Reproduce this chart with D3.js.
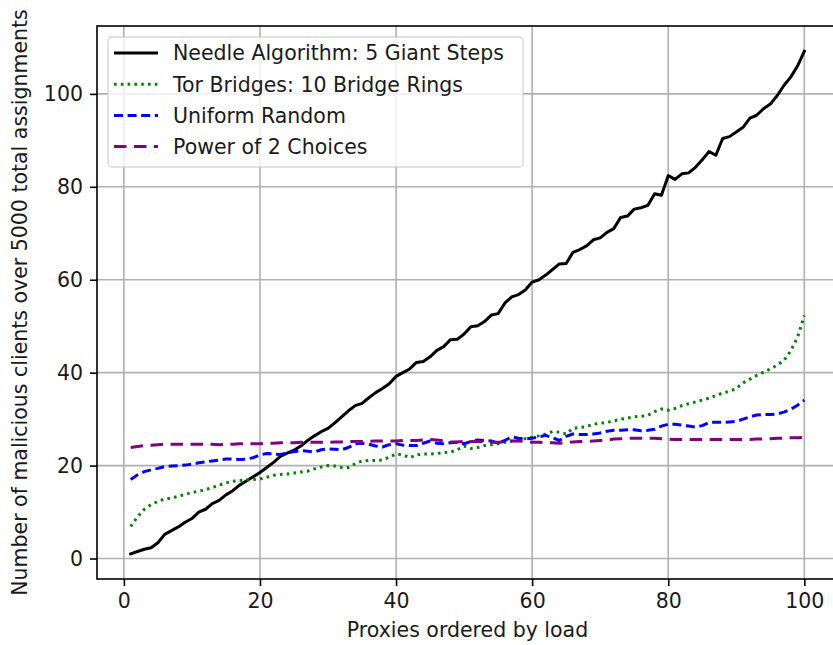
<!DOCTYPE html>
<html>
<head>
<meta charset="utf-8">
<script src="https://cdn.jsdelivr.net/npm/d3@7"></script>
<style>
  html, body { margin: 0; padding: 0; background: #fff; }
  svg { display: block; font-family: "DejaVu Sans", sans-serif; }
</style>
</head>
<body>
<svg id="chart" width="833" height="645"></svg>
<script>
// Proxy index (proxies ordered by load)
const proxies = d3.range(1, 101);

// Malicious clients per proxy, one array per assignment scheme
const needleValues = [
  1.0, 1.5, 2.0, 2.3, 3.4, 5.2, 6.0, 6.8, 7.8, 8.6,
  10.0, 10.6, 11.8, 12.5, 13.7, 14.6, 15.8, 16.7, 17.6, 18.5,
  19.6, 20.7, 22.0, 22.7, 23.3, 24.2, 25.4, 26.4, 27.3, 28.0,
  29.2, 30.5, 31.8, 32.9, 33.4, 34.6, 35.7, 36.6, 37.6, 39.2,
  40.0, 40.8, 42.2, 42.4, 43.4, 44.8, 45.6, 47.1, 47.2, 48.3,
  49.9, 50.1, 51.0, 52.4, 52.7, 55.0, 56.3, 56.8, 57.8, 59.5,
  60.0, 61.0, 62.2, 63.4, 63.5, 65.9, 66.5, 67.3, 68.6, 69.0,
  70.2, 71.0, 73.4, 73.7, 75.2, 75.5, 76.0, 78.5, 78.2, 82.4,
  81.6, 82.8, 83.0, 84.2, 85.8, 87.6, 86.8, 90.4, 90.8, 91.8,
  92.8, 94.8, 95.4, 96.8, 97.8, 99.6, 101.8, 103.6, 106.0, 109.2
];

const torValues = [
  6.9, 9.0, 10.6, 11.6, 12.3, 12.8, 13.0, 13.4, 13.8, 14.2,
  14.5, 14.8, 15.3, 15.8, 16.3, 16.6, 16.8, 16.9, 17.0, 17.1,
  17.5, 17.9, 18.1, 18.2, 18.4, 18.6, 18.8, 19.3, 19.7, 20.0,
  19.9, 19.6, 19.6, 20.4, 21.0, 21.1, 21.1, 21.2, 21.8, 22.5,
  22.3, 21.7, 22.3, 22.5, 22.5, 22.6, 22.8, 22.9, 23.4, 24.2,
  23.7, 23.9, 24.3, 24.5, 24.7, 25.0, 25.3, 25.5, 25.8, 26.1,
  26.4, 26.8, 27.3, 27.2, 26.8, 28.0, 28.2, 28.4, 28.9, 29.1,
  29.3, 29.6, 30.0, 30.2, 30.5, 30.6, 30.8, 31.6, 32.2, 31.9,
  32.3, 32.9, 33.3, 33.7, 34.1, 34.5, 35.1, 35.6, 36.0, 36.6,
  37.8, 38.6, 39.4, 40.1, 40.8, 41.6, 42.6, 44.7, 47.6, 52.3
];

const uniformValues = [
  17.0, 18.0, 18.7, 19.1, 19.4, 19.8, 19.9, 20.0, 20.1, 20.3,
  20.6, 20.8, 21.0, 21.2, 21.4, 21.4, 21.3, 21.4, 21.7, 22.3,
  22.6, 22.5, 22.4, 22.7, 23.0, 23.2, 23.1, 22.9, 23.4, 23.6,
  23.5, 23.4, 23.9, 24.7, 24.8, 24.6, 24.2, 24.0, 24.5, 24.7,
  24.4, 24.3, 24.3, 24.8, 25.3, 24.8, 24.7, 24.9, 25.0, 24.7,
  25.2, 25.5, 25.4, 25.3, 24.8, 25.4, 26.2, 25.9, 25.7, 25.9,
  26.2, 26.5, 26.0, 25.4, 26.3, 26.8, 26.7, 26.7, 26.8, 27.0,
  27.4, 27.6, 27.6, 27.7, 27.7, 27.5, 27.6, 27.8, 28.5, 28.9,
  28.9, 28.7, 28.5, 28.3, 28.6, 29.3, 29.3, 29.3, 29.4, 29.5,
  30.0, 30.5, 30.9, 31.0, 31.0, 31.1, 31.5, 32.1, 33.0, 34.1
];

const powerOf2Values = [
  23.9, 24.1, 24.3, 24.4, 24.5, 24.6, 24.6, 24.6, 24.6, 24.6,
  24.6, 24.6, 24.6, 24.5, 24.6, 24.6, 24.7, 24.7, 24.7, 24.7,
  24.8, 24.8, 24.9, 24.9, 24.9, 25.0, 25.0, 25.0, 25.0, 25.0,
  25.1, 25.1, 25.2, 25.2, 25.2, 25.2, 25.3, 25.3, 25.3, 25.3,
  25.4, 25.4, 25.4, 25.5, 25.6, 25.5, 25.3, 25.1, 25.1, 25.2,
  25.2, 25.2, 25.1, 25.0, 25.0, 25.1, 25.3, 25.3, 25.2, 25.0,
  25.0, 24.9, 24.9, 24.8, 24.9, 25.1, 25.2, 25.2, 25.3, 25.4,
  25.5, 25.7, 25.8, 25.9, 25.9, 25.9, 25.9, 25.9, 25.8, 25.7,
  25.6, 25.6, 25.6, 25.6, 25.6, 25.6, 25.6, 25.6, 25.6, 25.6,
  25.6, 25.6, 25.7, 25.7, 25.8, 25.9, 25.9, 26.0, 26.0, 26.1
];

const seriesNames = [
  "Needle Algorithm: 5 Giant Steps",
  "Tor Bridges: 10 Bridge Rings",
  "Uniform Random",
  "Power of 2 Choices"
];

const xTicks = [0, 20, 40, 60, 80, 100];
const yTicks = [0, 20, 40, 60, 80, 100];

const xLabel = "Proxies ordered by load";
const yLabel = "Number of malicious clients over 5000 total assignments";

// Styling per series
const styles = [
  { color: "#000000", dash: null },
  { color: "#008000", dash: "2.6,4.2" },
  { color: "#0000ff", dash: "9,4.6" },
  { color: "#800080", dash: "12.5,7.5" }
];

const seriesValues = [needleValues, torValues, uniformValues, powerOf2Values];
const series = seriesNames.map((name, i) => ({
  name,
  style: styles[i],
  points: proxies.map((p, j) => ({ x: p, y: seriesValues[i][j] }))
}));

// Layout
const plot = { left: 97, right: 838, top: 26, bottom: 579 };
const fontSize = 20.5;
const textColor = "#1a1a1a";

const svg = d3.select("#chart");

// Axis ranges with 5% padding around the data, as matplotlib does
const allY = seriesValues.flat();
const xMin = d3.min(proxies), xMax = d3.max(proxies);
const yMin = d3.min(allY), yMax = d3.max(allY);
const xPad = (xMax - xMin) * 0.05, yPad = (yMax - yMin) * 0.05;

const x = d3.scaleLinear()
  .domain([xMin - xPad, xMax + xPad])
  .range([plot.left, plot.right]);
const y = d3.scaleLinear()
  .domain([yMin - yPad, yMax + yPad])
  .range([plot.bottom, plot.top]);

svg.append("defs").append("clipPath").attr("id", "plot-clip")
  .append("rect")
  .attr("x", plot.left).attr("y", plot.top)
  .attr("width", plot.right - plot.left).attr("height", plot.bottom - plot.top);

// Grid
const grid = svg.append("g").attr("class", "grid");
grid.selectAll("line.gx").data(xTicks).join("line")
  .attr("x1", d => x(d)).attr("x2", d => x(d))
  .attr("y1", plot.top).attr("y2", plot.bottom)
  .attr("stroke", "#b0b0b0").attr("stroke-width", 1.6);
grid.selectAll("line.gy").data(yTicks).join("line")
  .attr("x1", plot.left).attr("x2", plot.right)
  .attr("y1", d => y(d)).attr("y2", d => y(d))
  .attr("stroke", "#b0b0b0").attr("stroke-width", 1.6);

// Series lines
const line = d3.line().x(d => x(d.x)).y(d => y(d.y));
const lines = svg.append("g").attr("clip-path", "url(#plot-clip)");
series.forEach(s => {
  lines.append("path")
    .datum(s.points)
    .attr("d", line)
    .attr("fill", "none")
    .attr("stroke", s.style.color)
    .attr("stroke-width", 3)
    .attr("stroke-linejoin", "round")
    .attr("stroke-linecap", s.style.dash ? "butt" : "square")
    .attr("stroke-dasharray", s.style.dash);
});

// Axes
const xAxis = svg.append("g")
  .attr("transform", `translate(0,${plot.bottom})`)
  .call(d3.axisBottom(x).tickValues(xTicks).tickSize(7).tickPadding(6).tickSizeOuter(0));
const yAxis = svg.append("g")
  .attr("transform", `translate(${plot.left},0)`)
  .call(d3.axisLeft(y).tickValues(yTicks).tickSize(7).tickPadding(7).tickSizeOuter(0));

[xAxis, yAxis].forEach(ax => {
  ax.select(".domain").remove();
  ax.selectAll(".tick line").attr("stroke", "#000").attr("stroke-width", 1.6);
  ax.selectAll(".tick text")
    .attr("fill", textColor)
    .style("font-size", fontSize + "px")
    .style("font-family", "'DejaVu Sans', sans-serif");
});
xAxis.selectAll(".tick text").attr("dy", "0.76em");

// Spines
svg.append("rect")
  .attr("x", plot.left).attr("y", plot.top)
  .attr("width", plot.right - plot.left).attr("height", plot.bottom - plot.top)
  .attr("fill", "none").attr("stroke", "#000").attr("stroke-width", 1.6);

// Axis labels
svg.append("text")
  .attr("x", (plot.left + plot.right) / 2)
  .attr("y", 637)
  .attr("text-anchor", "middle")
  .attr("fill", textColor)
  .style("font-size", fontSize + "px")
  .text(xLabel);

svg.append("text")
  .attr("transform", `translate(27,${(plot.top + plot.bottom) / 2}) rotate(-90)`)
  .attr("text-anchor", "middle")
  .attr("fill", textColor)
  .style("font-size", fontSize + "px")
  .text(yLabel);

// Legend
const legend = svg.append("g").attr("transform", "translate(108,37)");
legend.append("rect")
  .attr("width", 415).attr("height", 130)
  .attr("rx", 4).attr("ry", 4)
  .attr("fill", "#ffffff").attr("fill-opacity", 0.8)
  .attr("stroke", "#cccccc").attr("stroke-opacity", 0.8).attr("stroke-width", 1.3);

const rows = legend.selectAll("g.row").data(series).join("g")
  .attr("transform", (d, i) => `translate(0,${16 + i * 31.2})`);
rows.append("line")
  .attr("x1", 6).attr("x2", 50)
  .attr("y1", 0).attr("y2", 0)
  .attr("stroke", d => d.style.color)
  .attr("stroke-width", 3)
  .attr("stroke-dasharray", d => d.style.dash);
rows.append("text")
  .attr("x", 65).attr("y", 0)
  .attr("dy", "0.36em")
  .attr("fill", textColor)
  .style("font-size", fontSize + "px")
  .text(d => d.name);
</script>
</body>
</html>
